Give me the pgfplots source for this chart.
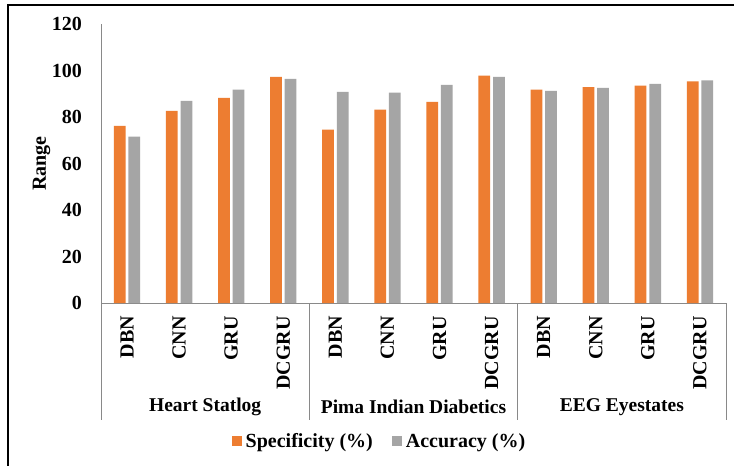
\documentclass[border=0pt]{standalone}
\usepackage{fontspec}
\setmainfont{Liberation Serif}
\usepackage{pgfplots}
\pgfplotsset{compat=1.18}
\definecolor{spec}{RGB}{237,125,49}
\definecolor{acc}{RGB}{165,165,165}
\definecolor{axgray}{RGB}{137,137,137}
\begin{document}
\begin{tikzpicture}[font=\fontsize{20}{24}\selectfont\bfseries]
\useasboundingbox (0,0) rectangle (734pt,466pt);
\fill[white] (0,0) rectangle (734pt,466pt);
\draw[black, line width=1.6pt] (8pt,0) -- (8pt,461pt) -- (734pt,461pt);
\begin{axis}[
  at={(101pt,163pt)}, anchor=south west,
  scale only axis, width=625pt, height=279pt,
  ybar=2.9pt, bar width=11.7pt,
  xmin=-0.5, xmax=11.5, ymin=0, ymax=120,
  enlargelimits=false, clip=false,
  xtick={0,...,11},
  xticklabels={DBN,CNN,GRU,DCGRU,DBN,CNN,GRU,DCGRU,DBN,CNN,GRU,DCGRU},
  ytick={0,20,...,120},
  major tick length=0pt,
  axis x line*=bottom, axis y line*=left,
  axis line style={axgray, line width=1pt, -},
  xticklabel style={rotate=90, anchor=east, inner sep=0pt},
  xticklabel shift=13pt,
  yticklabel style={anchor=east, inner sep=0pt},
  yticklabel shift=19pt,
  /pgf/number format/assume math mode=true,
  ylabel={Range},
  ylabel style={at={(axis description cs:0,0.5)}, anchor=center, yshift=59.5pt},
  legend style={at={(axis description cs:0.4448,-0.4946)}, anchor=center, draw=none, fill=none,
    legend columns=2, /tikz/every even column/.append style={column sep=18pt},
    nodes={inner sep=1pt}},
  legend image code/.code={\fill[#1] (0pt,-5pt) rectangle (10pt,5pt); \path (13pt,0pt);},
]
\addplot[fill=spec, draw=none] coordinates {
  (0,76.2) (1,82.6) (2,88.2) (3,97.3)
  (4,74.6) (5,83.2) (6,86.5) (7,97.8)
  (8,91.8) (9,92.8) (10,93.5) (11,95.3)};
\addplot[fill=acc, draw=none] coordinates {
  (0,71.6) (1,86.9) (2,91.8) (3,96.4)
  (4,90.8) (5,90.5) (6,93.8) (7,97.3)
  (8,91.2) (9,92.5) (10,94.3) (11,95.8)};
\legend{Specificity (\%), Accuracy (\%)}
\draw[axgray, line width=1pt] (axis cs:-0.5,0) -- ++(0pt,-117pt);
\draw[axgray, line width=1pt] (axis cs:3.5,0) -- ++(0pt,-117pt);
\draw[axgray, line width=1pt] (axis cs:7.5,0) -- ++(0pt,-117pt);
\draw[axgray, line width=1pt] (axis cs:11.5,0) -- ++(0pt,-117pt);
\node[font=\fontsize{19.5}{23}\selectfont\bfseries] at (axis cs:1.5,0) [yshift=-104pt] {Heart Statlog};
\node[font=\fontsize{19.5}{23}\selectfont\bfseries] at (axis cs:5.5,0) [yshift=-104pt] {Pima Indian Diabetics};
\node[font=\fontsize{19.5}{23}\selectfont\bfseries] at (axis cs:9.5,0) [yshift=-104pt] {EEG Eyestates};
\end{axis}
\end{tikzpicture}
\end{document}
